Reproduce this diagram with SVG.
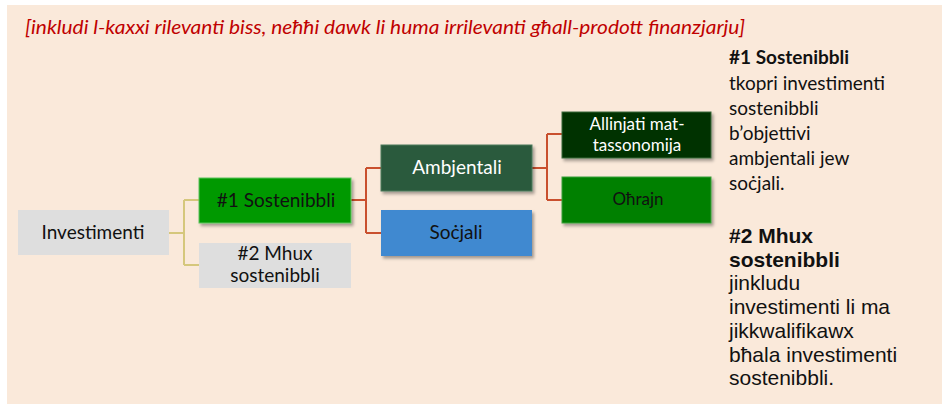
<svg xmlns="http://www.w3.org/2000/svg" width="942" height="408" viewBox="0 0 942 408">
<style>
.c{font-family:Lato,"Open Sans","Liberation Sans",sans-serif;}
.a{font-family:"Liberation Sans",Arial,sans-serif;}
.n{font-size:19px;text-anchor:middle;}
.w{fill:#ffffff;}
.k{fill:#111111;}
.l1{fill:none;stroke:#D5C77C;stroke-width:2;}
.l2{fill:none;stroke:#C9502E;stroke-width:2;}
.side{font-size:19px;fill:#111111;}
.ar{font-size:21px;}
</style>
<defs>
<filter id="sh" x="-10%" y="-20%" width="130%" height="150%">
<feDropShadow dx="2" dy="2.5" stdDeviation="1.5" flood-color="#000" flood-opacity="0.35"/>
</filter>
</defs>
<rect x="0" y="0" width="942" height="408" fill="#ffffff"/>
<rect x="7" y="5" width="935" height="399" fill="#FAE9DA"/>
<text class="c" x="25" y="34" font-size="20" font-style="italic" fill="#C00000" textLength="720" lengthAdjust="spacingAndGlyphs">[inkludi l-kaxxi rilevanti biss, neħħi dawk li huma irrilevanti għall-prodott finanzjarju]</text>
<g id="connectors">
<path class="l1" d="M169,233 H184 M184,200 V265 M184,200 H199 M184,265 H199"/>
<path class="l2" d="M351,200 H366 M366,168 V233 M366,168 H381 M366,233 H381"/>
<path class="l2" d="M532,168 H547 M547,134 V200 M547,134 H562 M547,200 H562"/>
</g>
<g id="investimenti">
<rect x="18" y="210" width="151" height="45" fill="#DEDEDE"/>
<text class="c n k" x="93" y="239">Investimenti</text>
</g>
<g id="sostenibbli1">
<rect x="199" y="178" width="152" height="45" fill="#009900" stroke="#5FC35F" stroke-width="1" filter="url(#sh)"/>
<text class="c n k" x="276" y="207">#1 Sostenibbli</text>
</g>
<g id="mhux-sostenibbli">
<rect x="199" y="243" width="152" height="45" fill="#DEDEDE"/>
<text class="c n k" x="275" y="260">#2 Mhux</text>
<text class="c n k" x="275" y="282">sostenibbli</text>
</g>
<g id="ambjentali">
<rect x="381" y="145" width="151" height="46" fill="#295A3C" stroke="#4C7A5C" stroke-width="1" filter="url(#sh)"/>
<text class="c n w" x="457" y="174">Ambjentali</text>
</g>
<g id="socjali">
<rect x="381" y="210" width="151" height="46" fill="#3F89D0" filter="url(#sh)"/>
<text class="c n k" x="456" y="239">Soċjali</text>
</g>
<g id="allinjati">
<rect x="562" y="112" width="149" height="46" fill="#003300" stroke="#3F6A3F" stroke-width="1" filter="url(#sh)"/>
<text class="c w" x="637" y="130" font-size="17" text-anchor="middle">Allinjati mat-</text>
<text class="c w" x="637" y="151" font-size="17" text-anchor="middle">tassonomija</text>
</g>
<g id="ohrajn">
<rect x="562" y="177" width="149" height="46" fill="#008000" stroke="#3FA03F" stroke-width="1" filter="url(#sh)"/>
<text class="c k" x="638" y="205" font-size="17" text-anchor="middle">Oħrajn</text>
</g>
<g id="legend">
<text class="c side" x="729" y="64" font-weight="bold">#1 Sostenibbli</text>
<text class="c side" x="729" y="90">tkopri investimenti</text>
<text class="c side" x="729" y="115">sostenibbli</text>
<text class="c side" x="729" y="140">b’objettivi</text>
<text class="c side" x="729" y="165">ambjentali jew</text>
<text class="c side" x="729" y="190">soċjali.</text>
<text class="a side ar" x="729" y="243" font-weight="bold">#2 Mhux</text>
<text class="a side ar" x="729" y="267" font-weight="bold">sostenibbli</text>
<text class="a side ar" x="729" y="290">jinkludu</text>
<text class="a side ar" x="729" y="314">investimenti li ma</text>
<text class="a side ar" x="729" y="338">jikkwalifikawx</text>
<text class="a side ar" x="729" y="362">bħala investimenti</text>
<text class="a side ar" x="729" y="385">sostenibbli.</text>
</g>
</svg>
